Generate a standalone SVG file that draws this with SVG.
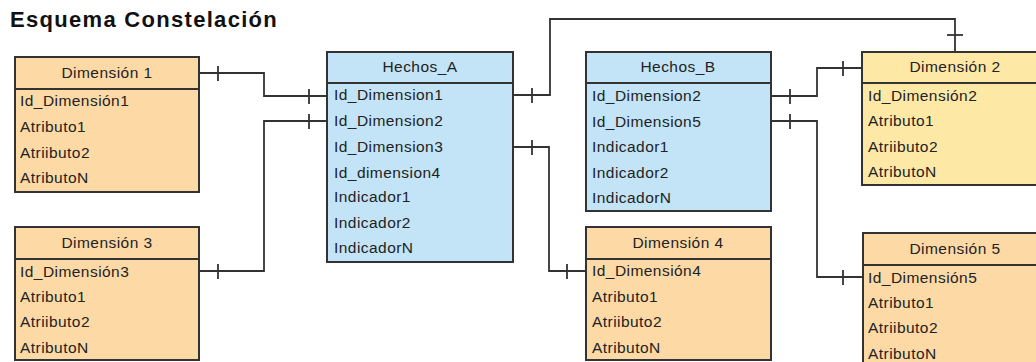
<svg xmlns="http://www.w3.org/2000/svg" width="1036" height="362" viewBox="0 0 1036 362">
  <style>
    .box { stroke: #333; stroke-width: 2; }
    .dim { fill: #FDD9A6; }
    .fact { fill: #C3E4F6; }
    .dim2 { fill: #FEE8A6; }
    .sep { stroke: #333; stroke-width: 2; }
    .hdr { font-family: "Liberation Sans", Arial, sans-serif; font-size: 15.5px; letter-spacing: 0.45px; fill: #222; text-anchor: middle; }
    .row { font-family: "Liberation Sans", Arial, sans-serif; font-size: 15.5px; letter-spacing: 0.45px; fill: #222; }
    .title { font-family: "Liberation Sans", Arial, sans-serif; font-size: 22px; letter-spacing: 1.3px; font-weight: bold; fill: #111; }
    .link { fill: none; stroke: #333; stroke-width: 1.8; }
    .tick { stroke: #333; stroke-width: 1.8; }
  </style>

  <rect width="1036" height="362" fill="#fff"/>

  <text class="title" x="10" y="27">Esquema Constelación</text>

  <!-- Connectors -->
  <g id="connectors">
    <path class="link" d="M199,73 H264 V96 H327"/>
    <line class="tick" x1="218" y1="66" x2="218" y2="81"/>
    <line class="tick" x1="309" y1="89" x2="309" y2="104"/>

    <path class="link" d="M327,121 H264 V271 H199"/>
    <line class="tick" x1="309" y1="114" x2="309" y2="129"/>
    <line class="tick" x1="218" y1="264" x2="218" y2="279"/>

    <path class="link" d="M513,95 H550 V19 H955 V52"/>
    <line class="tick" x1="532" y1="88" x2="532" y2="103"/>
    <line class="tick" x1="947" y1="35" x2="963" y2="35"/>

    <path class="link" d="M513,147 H549 V271 H586"/>
    <line class="tick" x1="532" y1="140" x2="532" y2="155"/>
    <line class="tick" x1="567" y1="264" x2="567" y2="279"/>

    <path class="link" d="M771,96 H817 V68 H862"/>
    <line class="tick" x1="790" y1="89" x2="790" y2="104"/>
    <line class="tick" x1="843" y1="61" x2="843" y2="76"/>

    <path class="link" d="M771,121 H817 V277 H863"/>
    <line class="tick" x1="790" y1="114" x2="790" y2="129"/>
    <line class="tick" x1="843" y1="270" x2="843" y2="285"/>
  </g>

  <!-- Dimension 1 -->
  <g id="dim1">
    <rect class="box dim" x="15" y="57" width="184" height="135"/>
    <line class="sep" x1="15" y1="89" x2="199" y2="89"/>
    <text class="hdr" x="107" y="78">Dimensión 1</text>
    <text class="row" x="20" y="106">Id_Dimensión1</text>
    <text class="row" x="20" y="132">Atributo1</text>
    <text class="row" x="20" y="158">Atriibuto2</text>
    <text class="row" x="20" y="183">AtributoN</text>
  </g>

  <!-- Dimension 3 -->
  <g id="dim3">
    <rect class="box dim" x="15" y="227" width="184" height="133"/>
    <line class="sep" x1="15" y1="259" x2="199" y2="259"/>
    <text class="hdr" x="107" y="248">Dimensión 3</text>
    <text class="row" x="20" y="277">Id_Dimensión3</text>
    <text class="row" x="20" y="302">Atributo1</text>
    <text class="row" x="20" y="327">Atriibuto2</text>
    <text class="row" x="20" y="353">AtributoN</text>
  </g>

  <!-- Fact table A -->
  <g id="hechosA">
    <rect class="box fact" x="327" y="52" width="186" height="210"/>
    <line class="sep" x1="327" y1="83" x2="513" y2="83"/>
    <text class="hdr" x="420" y="72">Hechos_A</text>
    <text class="row" x="334" y="100">Id_Dimension1</text>
    <text class="row" x="334" y="126">Id_Dimension2</text>
    <text class="row" x="334" y="152">Id_Dimension3</text>
    <text class="row" x="334" y="178">Id_dimension4</text>
    <text class="row" x="334" y="202">Indicador1</text>
    <text class="row" x="334" y="228">Indicador2</text>
    <text class="row" x="334" y="253">IndicadorN</text>
  </g>

  <!-- Fact table B -->
  <g id="hechosB">
    <rect class="box fact" x="586" y="52" width="185" height="159"/>
    <line class="sep" x1="586" y1="83" x2="771" y2="83"/>
    <text class="hdr" x="678" y="72">Hechos_B</text>
    <text class="row" x="592" y="101">Id_Dimension2</text>
    <text class="row" x="592" y="127">Id_Dimension5</text>
    <text class="row" x="592" y="152">Indicador1</text>
    <text class="row" x="592" y="178">Indicador2</text>
    <text class="row" x="592" y="203">IndicadorN</text>
  </g>

  <!-- Dimension 2 -->
  <g id="dim2">
    <rect class="box dim2" x="862" y="52" width="190" height="133"/>
    <line class="sep" x1="862" y1="83" x2="1052" y2="83"/>
    <text class="hdr" x="955" y="72">Dimensión 2</text>
    <text class="row" x="868" y="101">Id_Dimensión2</text>
    <text class="row" x="868" y="126">Atributo1</text>
    <text class="row" x="868" y="152">Atriibuto2</text>
    <text class="row" x="868" y="177">AtributoN</text>
  </g>

  <!-- Dimension 4 -->
  <g id="dim4">
    <rect class="box dim" x="586" y="227" width="185" height="133"/>
    <line class="sep" x1="586" y1="259" x2="771" y2="259"/>
    <text class="hdr" x="678" y="248">Dimensión 4</text>
    <text class="row" x="592" y="276">Id_Dimensión4</text>
    <text class="row" x="592" y="302">Atributo1</text>
    <text class="row" x="592" y="327">Atriibuto2</text>
    <text class="row" x="592" y="353">AtributoN</text>
  </g>

  <!-- Dimension 5 -->
  <g id="dim5">
    <rect class="box dim" x="863" y="233" width="190" height="140"/>
    <line class="sep" x1="863" y1="265" x2="1053" y2="265"/>
    <text class="hdr" x="955" y="254">Dimensión 5</text>
    <text class="row" x="868" y="283">Id_Dimensión5</text>
    <text class="row" x="868" y="308">Atributo1</text>
    <text class="row" x="868" y="333">Atriibuto2</text>
    <text class="row" x="868" y="359">AtributoN</text>
  </g>
</svg>
